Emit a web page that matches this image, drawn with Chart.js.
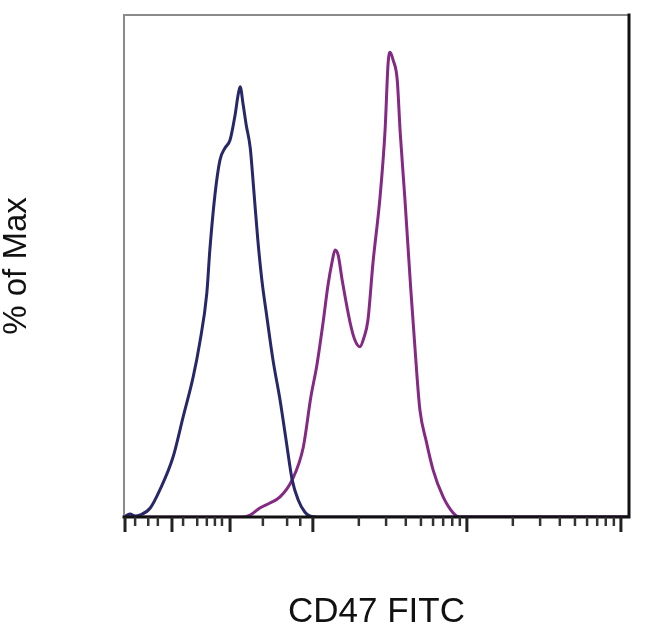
<!DOCTYPE html>
<html>
<head>
<meta charset="utf-8">
<script src="https://cdn.jsdelivr.net/npm/chart.js@4"></script>
<style>
  html, body { margin: 0; padding: 0; background: #fff; }
  #wrap { width: 650px; height: 630px; position: relative; }
</style>
</head>
<body>
<div id="wrap"><canvas id="histChart"></canvas></div>
<script>
// --- Data (x in channel units 0-1000, y in % of max) ---
const isotypeX = [0, 12, 22, 32, 52, 71, 97, 117, 137, 150, 164, 170, 180, 190, 200, 210, 220, 226, 230, 236, 242, 250, 257, 265, 273, 283, 295, 309, 321, 333, 345, 358, 368, 388, 500, 700, 1000];
const isotypeY = [0, 0.6, 0.2, 0.4, 1.8, 5.4, 11.9, 19.9, 27.9, 34.7, 44.6, 53.2, 64.1, 71.1, 73.5, 75.1, 80.1, 84.1, 85.7, 82.1, 78.1, 73.5, 65.1, 55.2, 47.2, 39.8, 31.3, 23.3, 15.3, 7.4, 3.4, 1.0, 0.2, 0, 0, 0, 0];

const cd47X = [0, 100, 230, 250, 269, 289, 309, 333, 355, 370, 382, 394, 404, 412, 418, 424, 432, 448, 457, 467, 475, 483, 493, 507, 517, 523, 527, 533, 541, 547, 556, 568, 580, 586, 598, 612, 632, 652, 665, 800, 1000];
const cd47Y = [0, 0, 0, 0.4, 1.8, 2.8, 4.0, 7.4, 13.9, 23.9, 30.3, 38.6, 46.2, 50.8, 53.2, 52.2, 47.2, 38.6, 35.3, 33.9, 35.7, 39.2, 50.6, 63.7, 77.1, 90.4, 92.6, 91.0, 87.1, 76.5, 63.7, 45.2, 28.3, 21.3, 15.3, 9.4, 4.0, 0.8, 0, 0, 0];

// axis tick positions (channel units)
const majorTicks = [2, 95, 210, 374, 679, 984];
const minorTicks = [22, 48, 67, 117, 145, 164, 180, 194, 275, 323, 349, 465, 519, 558, 588, 612, 632, 650, 665, 770, 824, 863, 893, 917, 937, 954, 970];

const toPoints = (xs, ys) => xs.map((x, i) => ({ x: x, y: ys[i] }));

// --- frame + log-style ticks drawn from the x scale ---
const framePlugin = {
    id: 'frame',
    afterDatasetsDraw(chart) {
        const { ctx, chartArea: a, scales } = chart;
        ctx.save();
        ctx.lineCap = 'square';
        // top + left (grey)
        ctx.strokeStyle = '#8a8a8a';
        ctx.lineWidth = 2;
        ctx.beginPath();
        ctx.moveTo(a.left, a.bottom);
        ctx.lineTo(a.left, a.top);
        ctx.lineTo(a.right, a.top);
        ctx.stroke();
        // right + bottom (black)
        ctx.strokeStyle = '#111';
        ctx.lineWidth = 3;
        ctx.beginPath();
        ctx.moveTo(a.right, a.top);
        ctx.lineTo(a.right, a.bottom);
        ctx.lineTo(a.left, a.bottom);
        ctx.stroke();

        const x = scales.x;
        ctx.lineCap = 'butt';
        ctx.strokeStyle = '#222';
        ctx.lineWidth = 3;
        majorTicks.forEach(v => {
            const px = x.getPixelForValue(v);
            ctx.beginPath();
            ctx.moveTo(px, a.bottom);
            ctx.lineTo(px, a.bottom + 15);
            ctx.stroke();
        });
        ctx.strokeStyle = '#333';
        ctx.lineWidth = 2.5;
        minorTicks.forEach(v => {
            const px = x.getPixelForValue(v);
            ctx.beginPath();
            ctx.moveTo(px, a.bottom);
            ctx.lineTo(px, a.bottom + 9);
            ctx.stroke();
        });
        ctx.restore();
    }
};

const ctx = document.getElementById('histChart').getContext('2d');
const histChart = new Chart(ctx, {
    type: 'line',
    data: {
        datasets: [
            {
                label: 'Isotype',
                data: toPoints(isotypeX, isotypeY),
                borderColor: '#27276a',
                borderWidth: 3,
                pointRadius: 0,
                fill: false,
                cubicInterpolationMode: 'monotone'
            },
            {
                label: 'CD47',
                data: toPoints(cd47X, cd47Y),
                borderColor: '#842a84',
                borderWidth: 3,
                pointRadius: 0,
                fill: false,
                cubicInterpolationMode: 'monotone'
            }
        ]
    },
    options: {
        responsive: true,
        maintainAspectRatio: false,
        animation: false,
        layout: {
            padding: { top: 15, right: 21, left: 0, bottom: 0 }
        },
        plugins: {
            legend: { display: false },
            tooltip: { enabled: false }
        },
        scales: {
            x: {
                type: 'linear',
                min: 0,
                max: 1000,
                grid: { display: false },
                border: { display: false },
                ticks: { display: false },
                afterFit: (scale) => { scale.height = 113; },
                title: {
                    display: true,
                    text: 'CD47 FITC',
                    color: '#111',
                    padding: { top: 0, bottom: 0 },
                    font: { family: "'Liberation Sans', Arial, sans-serif", size: 35, lineHeight: 1 }
                }
            },
            y: {
                min: 0,
                max: 100,
                grid: { display: false },
                border: { display: false },
                ticks: { display: false },
                afterFit: (scale) => { scale.width = 124; },
                title: {
                    display: true,
                    text: '% of Max',
                    color: '#111',
                    padding: { top: 0, bottom: 0 },
                    font: { family: "'Liberation Sans', Arial, sans-serif", size: 33, lineHeight: 1 }
                }
            }
        }
    },
    plugins: [framePlugin]
});
</script>
</body>
</html>
